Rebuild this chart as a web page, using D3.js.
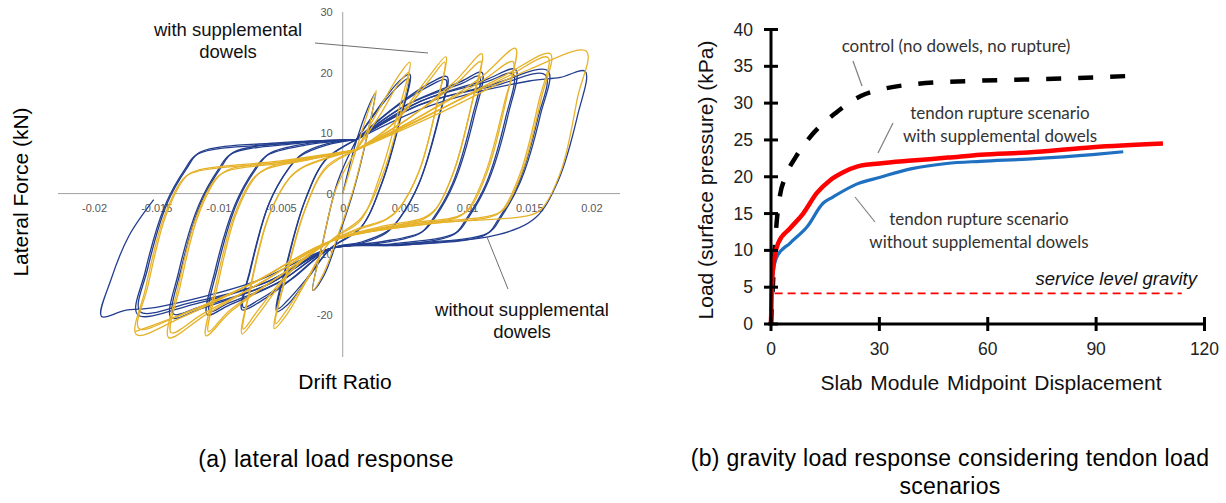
<!DOCTYPE html>
<html>
<head>
<meta charset="utf-8">
<script src="https://cdn.jsdelivr.net/npm/d3@7"></script>
<style>
  body { margin: 0; background: #fff; }
  svg { display: block; }
</style>
</head>
<body>
<svg id="figSvg" width="1226" height="503"></svg>
<script>
// ---- (a) lateral load response : hysteresis loops, [drift ratio, kN] ----
const driftTicks = [-0.02, -0.015, -0.01, -0.005, 0, 0.005, 0.01, 0.015, 0.02];
const forceTicks = [-20, -10, 0, 10, 20, 30];

// with supplemental dowels (yellow), one array per cycle
const withDowelsLoops = [
  [[0,0],[0.0012,8],[0.0022,14.5],[0.0027,17],[0.0020,10],[0.0009,1],[-0.0004,-7],[-0.0015,-13],[-0.0024,-16],[-0.0016,-8],[-0.0005,1],[0.0011,7.2]],
  [[0.0011,7.2],[0.0028,13.5],[0.0045,19.5],[0.0054,21.7],[0.0044,13],[0.0030,3],[0.0014,-4.5],[-0.0010,-7.9],[-0.0028,-14],[-0.0045,-20],[-0.0055,-22.3],[-0.0045,-13],[-0.0031,-3],[-0.0014,4],[0.0011,7.2]],
  [[0.0011,7.2],[0.0030,13],[0.0046,18.5],[0.0053,20],[0.0045,12],[0.0031,2.5],[0.0015,-4],[-0.0010,-7.9],[-0.0030,-14.5],[-0.0046,-19.5],[-0.0054,-21.5],[-0.0044,-12.5],[-0.0030,-2.5],[-0.0013,4.5],[0.0011,7.2]],
  [[0.0011,7.2],[0.0040,11.5],[0.0068,19],[0.0083,22.6],[0.0077,16],[0.0062,4],[0.0045,-2.5],[0.0035,-4.2],[0.0012,-5.8],[-0.0010,-7.9],[-0.0040,-12.5],[-0.0068,-20],[-0.0081,-23.2],[-0.0075,-16],[-0.0060,-4],[-0.0043,2.5],[-0.0033,4.2],[-0.0010,6],[0.0011,7.2]],
  [[0.0011,7.2],[0.0042,11.8],[0.0070,18.8],[0.0082,21.7],[0.0076,15],[0.0061,3.5],[0.0044,-2.8],[0.0034,-4.4],[0.0012,-6],[-0.0010,-7.9],[-0.0042,-12.8],[-0.0069,-19.5],[-0.0080,-22.4],[-0.0074,-15.5],[-0.0059,-3.5],[-0.0042,2.8],[-0.0032,4.4],[-0.0010,6.1],[0.0011,7.2]],
  [[0.0011,7.2],[0.0050,12],[0.0090,18.5],[0.0112,23.1],[0.0105,16],[0.0090,4],[0.0075,-2.5],[0.0065,-4],[0.0030,-5.5],[-0.0010,-7.9],[-0.0050,-13.5],[-0.0090,-19.5],[-0.0110,-23.5],[-0.0103,-16],[-0.0088,-4],[-0.0072,2.5],[-0.0062,4],[-0.0030,5.5],[0.0011,7.2]],
  [[0.0011,7.2],[0.0052,12.3],[0.0092,18.3],[0.0111,21.8],[0.0104,15],[0.0089,3.5],[0.0074,-2.8],[0.0064,-4.3],[0.0030,-5.7],[-0.0010,-7.9],[-0.0052,-13.8],[-0.0091,-19.3],[-0.0108,-22.8],[-0.0101,-15.5],[-0.0086,-3.5],[-0.0070,2.8],[-0.0060,4.3],[-0.0030,5.7],[0.0011,7.2]],
  [[0.0011,7.2],[0.0060,12.5],[0.0110,19],[0.0139,24],[0.0132,16],[0.0117,4],[0.0102,-2.5],[0.0092,-3.8],[0.0050,-5],[-0.0010,-7.9],[-0.0060,-14],[-0.0110,-20],[-0.0140,-23.8],[-0.0133,-16],[-0.0118,-4],[-0.0102,2.5],[-0.0092,3.8],[-0.0040,5.2],[0.0011,7.2]],
  [[0.0011,7.2],[0.0062,12.7],[0.0112,18.6],[0.0137,21.8],[0.0130,15],[0.0115,3.5],[0.0100,-2.8],[0.0090,-4.1],[0.0050,-5.2],[-0.0010,-7.9],[-0.0062,-14.3],[-0.0112,-19.8],[-0.0138,-23],[-0.0131,-15.5],[-0.0116,-3.5],[-0.0100,2.8],[-0.0090,4.1],[-0.0040,5.4],[0.0011,7.2]],
  [[0.0011,7.2],[0.0070,13],[0.0130,19.5],[0.0167,23.1],[0.0160,16],[0.0145,4],[0.0130,-2.5],[0.0120,-3.6],[0.0060,-5],[-0.0010,-7.9],[-0.0070,-14.5],[-0.0130,-20.5],[-0.0166,-23.3],[-0.0159,-16],[-0.0144,-4],[-0.0128,2.5],[-0.0118,3.6],[-0.0050,5.2],[0.0011,7.2]],
  [[0.0011,7.2],[0.0072,13.3],[0.0132,19.3],[0.0165,22.5],[0.0158,15.5],[0.0143,3.5],[0.0128,-2.8],[0.0118,-3.9],[0.0060,-5.2],[-0.0010,-7.9],[-0.0072,-14.8],[-0.0132,-20.2],[-0.0164,-22.3],[-0.0157,-15.5],[-0.0142,-3.5],[-0.0126,2.8],[-0.0116,3.9],[-0.0050,5.4],[0.0011,7.2]],
  [[0.0011,7.2],[0.0080,13.5],[0.0150,20.5],[0.0196,23.5],[0.0189,16],[0.0176,4],[0.0160,-2.5],[0.0150,-3.6],[0.0070,-5],[-0.0010,-7.9],[-0.0070,-14.5],[-0.0130,-20],[-0.0167,-22.8]]
];

// without supplemental dowels (blue)
const withoutDowelsLoops = [
  [[0,0],[0.0010,8],[0.0020,14],[0.0026,16.5],[0.0019,9],[0.0008,0],[-0.0005,-8],[-0.0015,-13.5],[-0.0024,-16],[-0.0016,-8],[-0.0004,2],[0.0011,8.9]],
  [[0.0011,8.9],[0.0028,14],[0.0045,18.5],[0.0054,19.7],[0.0046,12],[0.0032,2],[0.0015,-5.5],[-0.0010,-9.1],[-0.0028,-14],[-0.0044,-18.3],[-0.0053,-19.5],[-0.0045,-11.5],[-0.0031,-1.5],[-0.0014,5.5],[0.0011,8.9]],
  [[0.0011,8.9],[0.0030,14.3],[0.0046,18],[0.0053,19],[0.0045,11.5],[0.0031,1.5],[0.0014,-5.8],[-0.0010,-9.1],[-0.0030,-14.3],[-0.0045,-17.8],[-0.0052,-19],[-0.0044,-11],[-0.0030,-1],[-0.0013,5.8],[0.0011,8.9]],
  [[0.0011,8.9],[0.0040,14],[0.0068,18],[0.0084,19.3],[0.0078,13],[0.0062,2],[0.0046,-4],[0.0036,-6.2],[0.0015,-8],[-0.0010,-9.1],[-0.0040,-14],[-0.0066,-17.8],[-0.0081,-19.2],[-0.0075,-13],[-0.0060,-2],[-0.0044,4],[-0.0034,6.2],[-0.0013,8],[0.0011,8.9]],
  [[0.0011,8.9],[0.0042,14.2],[0.0069,17.7],[0.0083,18.8],[0.0077,12.5],[0.0061,1.5],[0.0045,-4.3],[0.0035,-6.5],[0.0015,-8.2],[-0.0010,-9.1],[-0.0042,-14.2],[-0.0067,-17.5],[-0.0080,-18.8],[-0.0074,-12.5],[-0.0059,-1.5],[-0.0043,4.3],[-0.0033,6.5],[-0.0013,8.2],[0.0011,8.9]],
  [[0.0011,8.9],[0.0050,14.5],[0.0095,18.5],[0.0112,20],[0.0106,13],[0.0090,2],[0.0074,-4],[0.0064,-6.3],[0.0030,-8],[-0.0010,-9.1],[-0.0050,-14.5],[-0.0092,-18.5],[-0.0109,-20],[-0.0103,-13],[-0.0087,-2],[-0.0071,4],[-0.0061,6.3],[-0.0030,8],[0.0011,8.9]],
  [[0.0011,8.9],[0.0052,14.7],[0.0096,18.2],[0.0110,19.4],[0.0104,12.5],[0.0088,1.5],[0.0072,-4.3],[0.0062,-6.6],[0.0030,-8.2],[-0.0010,-9.1],[-0.0052,-14.7],[-0.0093,-18.2],[-0.0107,-19.5],[-0.0101,-12.5],[-0.0085,-1.5],[-0.0069,4.3],[-0.0059,6.6],[-0.0030,8.2],[0.0011,8.9]],
  [[0.0011,8.9],[0.0060,15],[0.0115,18.8],[0.0139,20.5],[0.0133,13],[0.0117,2],[0.0101,-4],[0.0091,-6.5],[0.0040,-8.3],[-0.0010,-9.1],[-0.0060,-15],[-0.0114,-19],[-0.0138,-20.5],[-0.0132,-13],[-0.0116,-2],[-0.0100,4],[-0.0090,6.5],[-0.0040,8.2],[0.0011,8.9]],
  [[0.0011,8.9],[0.0062,15.2],[0.0116,18.5],[0.0137,19.8],[0.0131,12.5],[0.0115,1.5],[0.0099,-4.3],[0.0089,-6.8],[0.0040,-8.5],[-0.0010,-9.1],[-0.0062,-15.2],[-0.0115,-18.7],[-0.0136,-19.9],[-0.0130,-12.5],[-0.0114,-1.5],[-0.0098,4.3],[-0.0088,6.8],[-0.0040,8.4],[0.0011,8.9]],
  [[0.0011,8.9],[0.0060,14.5],[0.0120,18],[0.0165,20.3],[0.0159,13],[0.0143,2],[0.0127,-4],[0.0117,-6.5],[0.0050,-8.3],[-0.0010,-9.1],[-0.0060,-14.5],[-0.0120,-18.3],[-0.0165,-20],[-0.0159,-13],[-0.0143,-2],[-0.0127,4],[-0.0117,6.5],[-0.0050,8.2],[0.0011,8.9]],
  [[0.0011,8.9],[0.0062,14.7],[0.0122,17.8],[0.0163,19.6],[0.0157,12.5],[0.0141,1.5],[0.0125,-4.3],[0.0115,-6.8],[0.0050,-8.5],[-0.0010,-9.1],[-0.0062,-14.7],[-0.0122,-18],[-0.0163,-19.5],[-0.0157,-12.5],[-0.0141,-1.5],[-0.0125,4.3],[-0.0115,6.8],[-0.0050,8.4],[0.0011,8.9]],
  [[0.0011,8.9],[0.0070,14.5],[0.0150,18.6],[0.0175,19.2],[0.0195,20.2],[0.0189,13],[0.0173,2],[0.0155,-4],[0.0125,-6.8],[0.0060,-8.3],[-0.0010,-9.1],[-0.0070,-14.5],[-0.0150,-18.8],[-0.0175,-19.3],[-0.0194,-20.3],[-0.0186,-14],[-0.0172,-7],[-0.0152,-1]]
];

// ---- (b) gravity load response : [displacement, kPa] ----
const dispTicks = [0, 30, 60, 90, 120];
const loadTicks = [0, 5, 10, 15, 20, 25, 30, 35, 40];
const controlCurve = [[0,0],[0.5,5],[1,10],[1.6,14],[2.5,17.5],[4,20],[7,22.8],[11,25.5],[18,28.7],[25,31],[30,31.8],[40,32.6],[55,33],[70,33.2],[85,33.4],[99.5,33.7]];
const withDowelsCurve = [[0,0],[0.2,4.6],[0.6,7.7],[2,11],[5.3,13],[8.9,15],[12.7,17.8],[16.3,19.5],[20,20.6],[24,21.4],[30,21.8],[39,22.2],[49,22.6],[58,23],[71,23.3],[89,24],[108.5,24.5]];
const withoutDowelsCurve = [[0,0],[0.2,5],[0.6,7],[1.6,9.1],[5.3,11],[10,13.2],[14.4,16.4],[17,17.2],[23.7,19],[30,19.9],[39,21.1],[48.6,21.8],[58,22.1],[71,22.4],[89,23],[97.5,23.4]];
const serviceLoad = [[1,4.15],[113.7,4.15]];

const svg = d3.select("#figSvg");
const ARIAL = "Liberation Sans, Arial, sans-serif";

function drawLateral() {
  const g = svg.append("g");
  const x = d3.scaleLinear().domain([-0.0229, 0.0223]).range([58, 620]);
  const y = d3.scaleLinear().domain([-27, 30]).range([357, 12]);

  // axis lines through the origin
  g.append("line")
    .attr("x1", x.range()[0]).attr("x2", x.range()[1])
    .attr("y1", y(0)).attr("y2", y(0))
    .style("stroke", "#a0a0a0").style("stroke-width", 1);
  g.append("line")
    .attr("x1", x(0)).attr("x2", x(0))
    .attr("y1", y.range()[1]).attr("y2", y.range()[0])
    .style("stroke", "#a0a0a0").style("stroke-width", 1);

  // tick labels only
  const xAxis = g.append("g")
    .attr("transform", `translate(0, ${y(0)})`)
    .call(d3.axisBottom(x).tickValues(driftTicks).tickSize(0).tickPadding(11)
      .tickFormat(d => d === 0 ? "0" : String(d)));
  const yAxis = g.append("g")
    .attr("transform", `translate(${x(0) - 6}, 0)`)
    .call(d3.axisLeft(y).tickValues(forceTicks).tickSize(0).tickPadding(4)
      .tickFormat(d => String(d)));
  [xAxis, yAxis].forEach(a => {
    a.select(".domain").remove();
    a.selectAll("text").attr("font-family", ARIAL).attr("font-size", 11).attr("fill", "#595959");
  });

  const line = d3.line()
    .x(d => x(d[0]))
    .y(d => y(d[1]))
    .curve(d3.curveCatmullRom.alpha(0.5));

  // blue first, yellow on top
  g.selectAll("path.noDowel")
    .data(withoutDowelsLoops)
    .enter()
    .append("path")
    .attr("class", "noDowel")
    .attr("d", line)
    .style("fill", "none")
    .style("stroke", "#233e8f")
    .style("stroke-width", 1.3);

  g.selectAll("path.dowel")
    .data(withDowelsLoops)
    .enter()
    .append("path")
    .attr("class", "dowel")
    .attr("d", line)
    .style("fill", "none")
    .style("stroke", "#e6b229")
    .style("stroke-width", 1.3);

  // axis titles
  g.append("text")
    .attr("transform", "translate(28, 192) rotate(-90)")
    .attr("text-anchor", "middle")
    .attr("font-family", ARIAL).attr("font-size", 21)
    .text("Lateral Force (kN)");
  g.append("text")
    .attr("x", 345).attr("y", 389)
    .attr("text-anchor", "middle")
    .attr("font-family", ARIAL).attr("font-size", 21)
    .text("Drift Ratio");

  // annotations
  const notes = [
    { x: 228, y: 36, t: "with supplemental" },
    { x: 228, y: 58, t: "dowels" },
    { x: 522, y: 316, t: "without supplemental" },
    { x: 522, y: 338, t: "dowels" }
  ];
  g.selectAll("text.note")
    .data(notes)
    .enter()
    .append("text")
    .attr("class", "note")
    .attr("x", d => d.x).attr("y", d => d.y)
    .attr("text-anchor", "middle")
    .attr("font-family", ARIAL).attr("font-size", 18.5)
    .attr("fill", "#111")
    .text(d => d.t);
  g.append("line").attr("x1", 315).attr("y1", 43).attr("x2", 428).attr("y2", 53)
    .style("stroke", "#6f6f6f").style("stroke-width", 1);
  g.append("line").attr("x1", 487).attr("y1", 237).attr("x2", 508).attr("y2", 289)
    .style("stroke", "#6f6f6f").style("stroke-width", 1);

  g.append("text")
    .attr("x", 326).attr("y", 467)
    .attr("text-anchor", "middle")
    .attr("font-family", ARIAL).attr("font-size", 23)
    .attr("letter-spacing", 0.3)
    .text("(a) lateral load response");
}

function drawGravity() {
  const g = svg.append("g");
  const x = d3.scaleLinear().domain([0, 120]).range([771, 1204.5]);
  const y = d3.scaleLinear().domain([0, 40]).range([324, 29.5]);

  const line = d3.line()
    .x(d => x(d[0]))
    .y(d => y(d[1]))
    .curve(d3.curveMonotoneX);

  // service level gravity
  g.append("path")
    .datum(serviceLoad)
    .attr("d", line)
    .style("fill", "none")
    .style("stroke", "#ff0000")
    .style("stroke-width", 1.8)
    .style("stroke-dasharray", "8,5");

  // control curve
  g.append("path")
    .datum(controlCurve)
    .attr("d", line)
    .style("fill", "none")
    .style("stroke", "#000")
    .style("stroke-width", 4.5)
    .style("stroke-dasharray", "15,17");

  g.append("path")
    .datum(withoutDowelsCurve)
    .attr("d", line)
    .style("fill", "none")
    .style("stroke", "#1f70c1")
    .style("stroke-width", 3.2);

  g.append("path")
    .datum(withDowelsCurve)
    .attr("d", line)
    .style("fill", "none")
    .style("stroke", "#ff0000")
    .style("stroke-width", 4.5);

  // axes (ticks cross the axis line)
  g.append("line")
    .attr("x1", x(0) - 3).attr("x2", x(120) + 1.5)
    .attr("y1", y(0)).attr("y2", y(0))
    .style("stroke", "#000").style("stroke-width", 3);
  g.append("line")
    .attr("x1", x(0)).attr("x2", x(0))
    .attr("y1", y(40) - 1.5).attr("y2", y(0))
    .style("stroke", "#000").style("stroke-width", 3);

  g.selectAll("line.xtick")
    .data(dispTicks)
    .enter()
    .append("line")
    .attr("class", "xtick")
    .attr("x1", d => x(d)).attr("x2", d => x(d))
    .attr("y1", y(0) - 7).attr("y2", y(0) + 7)
    .style("stroke", "#000").style("stroke-width", 3);
  g.selectAll("line.ytick")
    .data(loadTicks)
    .enter()
    .append("line")
    .attr("class", "ytick")
    .attr("x1", x(0) - 7).attr("x2", x(0) + 7)
    .attr("y1", d => y(d)).attr("y2", d => y(d))
    .style("stroke", "#000").style("stroke-width", 3);

  g.selectAll("text.xlab")
    .data(dispTicks)
    .enter()
    .append("text")
    .attr("class", "xlab")
    .attr("x", d => x(d)).attr("y", 355)
    .attr("text-anchor", "middle")
    .attr("font-family", ARIAL).attr("font-size", 17.5)
    .attr("fill", "#222")
    .text(d => d);
  g.selectAll("text.ylab")
    .data(loadTicks)
    .enter()
    .append("text")
    .attr("class", "ylab")
    .attr("x", 753).attr("y", d => y(d) + 6)
    .attr("text-anchor", "end")
    .attr("font-family", ARIAL).attr("font-size", 17.5)
    .attr("fill", "#222")
    .text(d => d);

  // axis titles
  g.append("text")
    .attr("transform", "translate(713, 180) rotate(-90)")
    .attr("text-anchor", "middle")
    .attr("font-family", ARIAL).attr("font-size", 21)
    .attr("fill", "#111")
    .text("Load (surface pressure) (kPa)");
  g.append("text")
    .attr("x", 991).attr("y", 390)
    .attr("text-anchor", "middle")
    .attr("font-family", ARIAL).attr("font-size", 21)
    .attr("word-spacing", 2)
    .attr("fill", "#111")
    .text("Slab Module Midpoint Displacement");

  // annotations
  const notes = [
    { x: 956, y: 52, t: "control (no dowels, no rupture)" },
    { x: 1000, y: 119, t: "tendon rupture scenario" },
    { x: 1000, y: 142, t: "with supplemental dowels" },
    { x: 979, y: 225, t: "tendon rupture scenario" },
    { x: 979, y: 248, t: "without supplemental dowels" }
  ];
  g.selectAll("text.note")
    .data(notes)
    .enter()
    .append("text")
    .attr("class", "note")
    .attr("x", d => d.x).attr("y", d => d.y)
    .attr("text-anchor", "middle")
    .attr("font-family", "Lato, sans-serif").attr("font-size", 17)
    .attr("fill", "#333")
    .text(d => d.t);

  const leaders = [[853, 61, 862, 86], [893, 123, 878, 153], [855, 197, 875, 222]];
  g.selectAll("line.leader")
    .data(leaders)
    .enter()
    .append("line")
    .attr("class", "leader")
    .attr("x1", d => d[0]).attr("y1", d => d[1])
    .attr("x2", d => d[2]).attr("y2", d => d[3])
    .style("stroke", "#7f7f7f").style("stroke-width", 1.2);

  g.append("text")
    .attr("x", 1197).attr("y", 285)
    .attr("text-anchor", "end")
    .attr("font-family", ARIAL).attr("font-size", 18.5)
    .attr("font-style", "italic")
    .attr("fill", "#111")
    .text("service level gravity");

  // caption, two lines
  g.append("text")
    .attr("x", 950).attr("y", 466)
    .attr("text-anchor", "middle")
    .attr("font-family", ARIAL).attr("font-size", 23)
    .attr("letter-spacing", 0.3)
    .text("(b) gravity load response considering tendon load");
  g.append("text")
    .attr("x", 950).attr("y", 494)
    .attr("text-anchor", "middle")
    .attr("font-family", ARIAL).attr("font-size", 23)
    .attr("letter-spacing", 0.3)
    .text("scenarios");
}

drawLateral();
drawGravity();
</script>
</body>
</html>
